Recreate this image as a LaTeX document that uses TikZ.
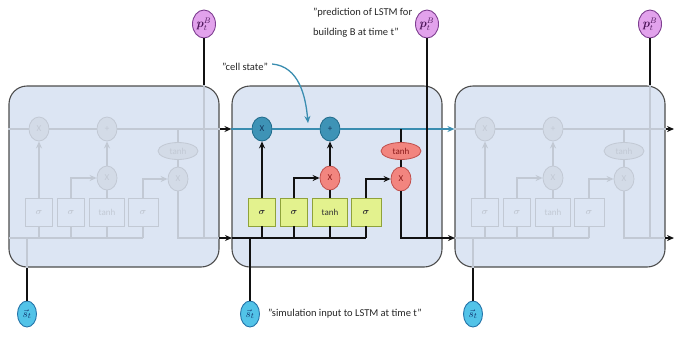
\documentclass[tikz,border=0pt]{standalone}
\usepackage{amsmath,bm}
\usepackage{fontspec}
\setmainfont{Carlito}
\usepackage{tikz}
\usetikzlibrary{positioning,arrows.meta,shapes.geometric}

\definecolor{boxfill}{HTML}{DCE5F3}
\definecolor{boxline}{HTML}{4D4D4D}
\definecolor{wirec}{HTML}{111111}
\definecolor{cellc}{HTML}{3A8DB0}
\definecolor{tealfill}{HTML}{3E93B6}
\definecolor{tealdraw}{HTML}{1F6A8A}
\definecolor{tealtext}{HTML}{13375E}
\definecolor{redfill}{HTML}{F2857F}
\definecolor{reddraw}{HTML}{C0504D}
\definecolor{redtext}{HTML}{8B1A1A}
\definecolor{gatefill}{HTML}{E3F28E}
\definecolor{gatedraw}{HTML}{8FA23A}
\definecolor{gatetext}{HTML}{333333}
\definecolor{fadeline}{HTML}{C2C9D4}
\definecolor{fadefill}{HTML}{D3DBE7}
\definecolor{pfill}{HTML}{E2A2EC}
\definecolor{pdraw}{HTML}{7E3F90}
\definecolor{ptext}{HTML}{4B1458}
\definecolor{sfill}{HTML}{52C3E8}
\definecolor{sdraw}{HTML}{2574A9}
\definecolor{stext}{HTML}{0E2F6B}

\tikzset{
  wire/.style={draw=wirec, line width=1.3pt},
  cline/.style={draw=cellc, line width=2pt},
  cellbox/.style={draw=boxline, fill=boxfill, line width=1.1pt, rounded corners=18pt,
                  minimum width=210pt, minimum height=181pt},
  opnode/.style={ellipse, inner sep=0pt, line width=0.8pt, minimum width=20pt,
                 minimum height=24pt, font=\fontsize{9}{9}\selectfont},
  tealop/.style={opnode, draw=tealdraw, fill=tealfill, text=tealtext},
  redop/.style={opnode, draw=reddraw, fill=redfill, text=redtext},
  gatebox/.style={rectangle, draw=gatedraw, fill=gatefill, text=gatetext, line width=0.8pt,
                  minimum height=28pt, inner sep=0pt, font=\fontsize{9}{9}\selectfont},
  pnode/.style={ellipse, draw=pdraw, fill=pfill, text=ptext, line width=0.9pt,
                minimum width=23pt, minimum height=28pt, inner sep=0pt, font=\fontsize{12}{12}\selectfont},
  snode/.style={ellipse, draw=sdraw, fill=sfill, text=stext, line width=0.9pt,
                minimum width=19pt, minimum height=26pt, inner sep=0pt, font=\fontsize{11}{11}\selectfont},
  lbl/.style={font=\fontsize{10.5}{20}\selectfont, text=black!85, inner sep=0pt}
}

% faded copy of the cell
\newcommand\fadecolours{%
  \colorlet{wirec}{fadeline}\colorlet{cellc}{fadeline}%
  \colorlet{tealfill}{fadefill}\colorlet{tealdraw}{fadeline}\colorlet{tealtext}{fadeline}%
  \colorlet{redfill}{fadefill}\colorlet{reddraw}{fadeline}\colorlet{redtext}{fadeline}%
  \colorlet{gatefill}{boxfill}\colorlet{gatedraw}{fadeline}\colorlet{gatetext}{fadeline}}

% one LSTM cell, drawn at the middle position
\newcommand\lstmcell{%
  \node[cellbox] (box) at (337,176.5) {};
  \coordinate (hin) at (232,238);
  \coordinate (hout) at (442,238);
  \coordinate (pdrop) at (427,238);
  \coordinate (sjoin) at (250,238);
  % gates
  \node[gatebox, minimum width=27pt] (sgf) at (262,212) {$\boldsymbol\sigma$};
  \node[gatebox, minimum width=27pt] (sgi) at (294,212) {$\boldsymbol\sigma$};
  \node[gatebox, minimum width=35pt] (tng) at (330,212) {tanh};
  \node[gatebox, minimum width=30pt] (sgo) at (366,212) {$\boldsymbol\sigma$};
  % pointwise operations
  \node[tealop] (mf) at (262,129) {X};
  \node[tealop] (add) at (330,129) {+};
  \node[redop] (mi) at (330,178) {X};
  \node[redop] (mo) at (401,179) {X};
  \node[redop, minimum width=40pt, minimum height=17pt] (tc) at (401,151) {tanh};
  % cell state
  \draw[cline] (box.west |- mf) -- (mf) -- (add) -- (box.east |- add);
  % hidden state and gates
  \draw[wire] (hin) -- (hin -| sgo);
  \foreach \g in {sgf,sgi,tng,sgo} \draw[wire] (\g) -- (\g |- hin);
  \draw[wire,->] (sgf) -- (mf);
  \draw[wire,->] (sgi) |- (mi);
  \draw[wire] (tng) -- (mi);
  \draw[wire,->] (mi) -- (add);
  \draw[wire,->] (sgo) |- (mo);
  \draw[wire] (tc) -- (tc |- add);
  \draw[wire] (tc) -- (mo);
  \draw[wire] (mo) |- (hout);
  \draw[wire] (pdrop |- box.north) -- (pdrop);
  \draw[wire] (sjoin |- box.south) -- (sjoin);
}

\begin{document}
\begin{tikzpicture}[x=1pt, y=-1pt, >={Stealth[length=7pt,width=6pt]}]
  \useasboundingbox (0,0) rectangle (674,341);

  \begin{scope}[shift={(-223,0)}, name prefix=L-]
    \fadecolours
    \lstmcell
  \end{scope}
  \begin{scope}[name prefix=M-]
    \lstmcell
  \end{scope}
  \begin{scope}[shift={(223,0)}, name prefix=R-]
    \fadecolours
    \lstmcell
  \end{scope}

  % links between cells
  \coordinate (cend) at (674,129);
  \coordinate (hend) at (674,238);
  \draw[wire,->] (L-box.east |- L-add) -- (M-box.west |- M-mf);
  \draw[cline,->] (M-box.east |- M-add) -- (R-box.west |- R-mf);
  \draw[wire,->] (R-box.east |- R-add) -- (cend);
  \draw[wire,->] (L-hout) -- (M-hin);
  \draw[wire,->] (M-hout) -- (R-hin);
  \draw[wire,->] (R-hout) -- (hend);

  % outputs and inputs
  \node[pnode] (pL) at (204,24) {$\bm{p}^B_t$};
  \node[pnode] (pM) at (427,24) {$\bm{p}^B_t$};
  \node[pnode] (pR) at (650,24) {$\bm{p}^B_t$};
  \node[snode] (sL) at (27,314) {$\vec{s}_t$};
  \node[snode] (sM) at (250,314) {$\vec{s}_t$};
  \node[snode] (sR) at (473,314) {$\vec{s}_t$};
  \foreach \c in {L,M,R} {
    \draw[wire] (p\c) -- (p\c |- \c-box.north);
    \draw[wire] (s\c) -- (s\c |- \c-box.south);
  }

  % labels
  \node[lbl] (cslbl) at (245,67) {"cell state"};
  \node[lbl, anchor=west, align=left] (predlbl) at (313,23) {"prediction of LSTM for\\building B at time t"};
  \node[lbl, anchor=west] (simlbl) at (268,314) {"simulation input to LSTM at time t"};
  \coordinate (csend) at (308,123);
  \draw[cline, line width=1.3pt, ->] (cslbl.east) ++(4,-3) to[out=-5, in=95] (csend);
\end{tikzpicture}
\end{document}
